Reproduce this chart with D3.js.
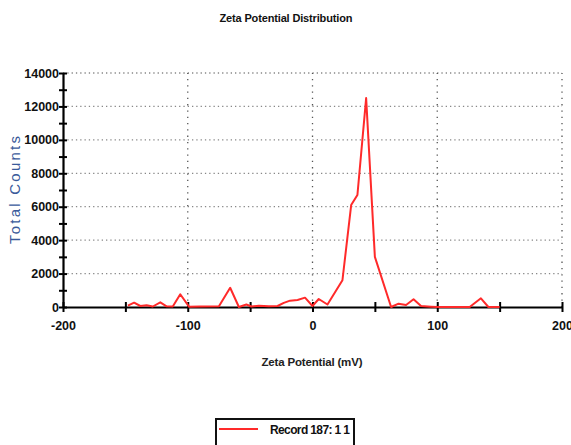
<!DOCTYPE html>
<html>
<head>
<meta charset="utf-8">
<script src="https://cdn.jsdelivr.net/npm/d3@7"></script>
<style>
  body { margin: 0; background: #fff; }
  svg { display: block; font-family: "Liberation Sans", Arial, sans-serif; }
</style>
</head>
<body>
<div class="chart"></div>
<script>
// zeta potential (mV) and total counts
var zeta = [-148, -143, -138, -133, -128, -122, -117, -112, -106, -99, -90, -75, -66, -59,
            -53, -49, -43, -35, -28, -23, -18, -12, -6, 0, 5, 12, 24, 31, 36, 43, 50,
            63, 69, 75, 81, 87, 95, 100, 126, 135, 141, 150];
var counts = [80, 260, 60, 100, 30, 280, 40, 30, 760, 20, 30, 40, 1150, 0,
              150, 30, 70, 40, 60, 250, 380, 420, 560, 60, 480, 150, 1600, 6100, 6700, 12500, 3000,
              0, 200, 120, 460, 60, 20, 0, 0, 520, 0, 0];
var xTicks = [-200, -100, 0, 100, 200];
var yTicks = [0, 2000, 4000, 6000, 8000, 10000, 12000, 14000];
var seriesName = "Record 187: 1 1";

function init(){
  var w = 571, h = 445;

  var svg = d3.select("div.chart")
              .append("svg")
              .attr("width", w)
              .attr("height", h);

  var x = d3.scaleLinear().domain([-200, 200]).range([63, 562]);
  var y = d3.scaleLinear().domain([0, 14000]).range([307, 73]);

  // dotted grid
  svg.append("g")
     .selectAll("line")
     .data(yTicks.slice(1))
     .enter()
     .append("line")
     .attr("x1", x(-200)).attr("x2", x(200))
     .attr("y1", function(d){ return y(d); })
     .attr("y2", function(d){ return y(d); })
     .attr("stroke", "#888")
     .attr("stroke-width", 1.3)
     .attr("stroke-dasharray", "1.3,3");

  svg.append("g")
     .selectAll("line")
     .data(xTicks.slice(1))
     .enter()
     .append("line")
     .attr("x1", function(d){ return x(d); })
     .attr("x2", function(d){ return x(d); })
     .attr("y1", y(0)).attr("y2", y(14000))
     .attr("stroke", "#555")
     .attr("stroke-width", 1.3)
     .attr("stroke-dasharray", "1.3,5");

  // axes: ticks cross the axis line
  var yAxis = d3.axisLeft(y).tickValues(d3.range(0, 14001, 1000))
                .tickSize(4).tickSizeOuter(0)
                .tickFormat(function(d){ return d % 2000 === 0 ? d : ""; });
  var gy = svg.append("g").attr("transform", "translate(" + x(-200) + ",0)").call(yAxis);
  gy.selectAll(".tick line").attr("x2", 4).attr("x1", -4).attr("stroke-width", 2);
  gy.select(".domain").attr("stroke-width", 2.2);
  gy.selectAll("text").attr("x", -4)
    .style("font-size", "12.5px").style("font-weight", "bold").attr("fill", "#111");

  var xAxis = d3.axisBottom(x).tickValues(d3.range(-200, 201, 50))
                .tickSize(4).tickSizeOuter(0)
                .tickFormat(function(d){ return d % 100 === 0 ? d : ""; });
  var gx = svg.append("g").attr("transform", "translate(0," + y(0) + ")").call(xAxis);
  gx.selectAll(".tick line").attr("y1", -5).attr("y2", 5).attr("stroke-width", 2);
  gx.select(".domain").attr("stroke-width", 2.2);
  gx.selectAll("text").attr("y", 14)
    .style("font-size", "12.5px").style("font-weight", "bold").attr("fill", "#111");

  // data line
  var pts = zeta.map(function(d, i){ return [d, counts[i]]; });
  var line = d3.line()
               .x(function(d){ return x(d[0]); })
               .y(function(d){ return y(d[1]); });
  svg.append("path")
     .datum(pts)
     .attr("d", line)
     .attr("fill", "none")
     .attr("stroke", "#ff2a2a")
     .attr("stroke-width", 2)
     .attr("stroke-linejoin", "round");

  // titles
  svg.append("text")
     .attr("x", 286).attr("y", 22)
     .attr("text-anchor", "middle")
     .attr("textLength", 133)
     .style("font-size", "11px").style("font-weight", "bold")
     .attr("fill", "#111")
     .text("Zeta Potential Distribution");

  svg.append("text")
     .attr("transform", "translate(20,190) rotate(-90)")
     .attr("text-anchor", "middle")
     .attr("textLength", 108)
     .style("font-size", "15px")
     .attr("fill", "#3a5a9a")
     .text("Total Counts");

  svg.append("text")
     .attr("x", 312).attr("y", 366)
     .attr("text-anchor", "middle")
     .attr("textLength", 101)
     .style("font-size", "11.5px").style("font-weight", "bold")
     .attr("fill", "#222")
     .text("Zeta Potential (mV)");

  // legend
  var lg = svg.append("g");
  lg.append("rect")
    .attr("x", 216).attr("y", 419).attr("width", 138).attr("height", 30)
    .attr("fill", "#fff").attr("stroke", "#111").attr("stroke-width", 2);
  lg.append("line")
    .attr("x1", 219).attr("x2", 258).attr("y1", 429).attr("y2", 429)
    .attr("stroke", "#ff2a2a").attr("stroke-width", 2.2);
  lg.append("text")
    .attr("x", 270).attr("y", 434)
    .attr("textLength", 80)
    .style("font-size", "12px").style("font-weight", "bold")
    .attr("fill", "#111")
    .text(seriesName);
}

window.onload = init;
</script>
</body>
</html>
